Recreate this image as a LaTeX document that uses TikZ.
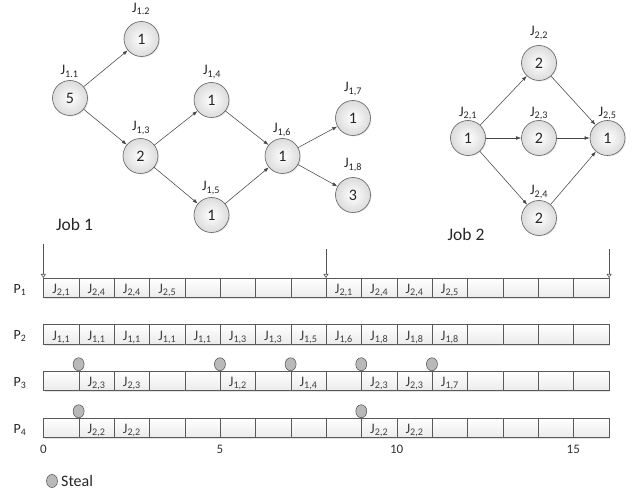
\documentclass[tikz,border=0pt]{standalone}
\usepackage{fontspec}
\setmainfont{Carlito}
\usetikzlibrary{arrows.meta,shapes.geometric,shadows}

\newcommand\jsub[1]{J\textsubscript{#1}}
\newcommand\psub[1]{P\textsubscript{#1}}

\begin{document}
\begin{tikzpicture}[x=1pt,y=-1pt,
  task/.style={circle, draw=gray!75!black, line width=0.6pt, inner color=white,
    outer color=gray!28, minimum size=35pt, inner sep=0pt,
    font=\fontsize{16}{16}\selectfont, text=black!85,
    drop shadow={opacity=0.18, shadow xshift=1pt, shadow yshift=-1pt}},
  tlab/.style={anchor=base, inner sep=0pt, font=\fontsize{14.5}{14.5}\selectfont, text=black!85},
  dep/.style={draw=gray!55!black, line width=0.55pt, -{Latex[length=5pt,width=3.6pt]}},
  rowbg/.style={rectangle, anchor=north west, minimum width=565.3pt, minimum height=19.5pt,
    inner sep=0pt, fill=white,
    drop shadow={opacity=0.22, shadow xshift=1pt, shadow yshift=-1.5pt}},
  cell/.style={rectangle, anchor=north west, draw=gray!70!black, line width=0.55pt,
    top color=white, bottom color=gray!16, minimum width=35.33pt, minimum height=19.5pt,
    inner sep=0pt},
  ctext/.style={inner sep=0pt, text height=11pt, text depth=0pt,
    font=\fontsize{14.5}{14.5}\selectfont, text=black!75},
  plab/.style={inner sep=0pt, text height=11pt, text depth=0pt,
    font=\fontsize{14}{14}\selectfont, text=black!85},
  axlab/.style={anchor=base, inner sep=0pt, font=\fontsize{13}{13}\selectfont, text=black!80},
  steal/.style={ellipse, draw=gray!60!black, fill=gray!55, minimum width=11pt,
    minimum height=13pt, inner sep=0pt, line width=0.5pt},
  cue/.style={draw=gray!65!black, line width=0.6pt, -{Triangle[open,length=4pt,width=5pt]}},
  joblab/.style={anchor=base, inner sep=0pt, font=\fontsize{17.5}{17.5}\selectfont, text=black!85},
  leglab/.style={anchor=west, inner sep=0pt, font=\fontsize{16}{16}\selectfont, text=black!85}
]
\useasboundingbox (0,0) rectangle (641,497);

% ---------------- Job 1 ----------------
\node[task] (n11) at (70,98) {5};
\node[task] (n12) at (141.5,39) {1};
\node[task] (n13) at (140.5,156) {2};
\node[task] (n14) at (211.5,100) {1};
\node[task] (n15) at (211.5,215) {1};
\node[task] (n16) at (282.5,156) {1};
\node[task] (n17) at (353,118) {1};
\node[task] (n18) at (353,195) {3};

\node[tlab] (l11) at (69.5,75) {\jsub{1.1}};
\node[tlab] (l12) at (141,12.5) {\jsub{1.2}};
\node[tlab] (l13) at (141,131) {\jsub{1,3}};
\node[tlab] (l14) at (212,75) {\jsub{1,4}};
\node[tlab] (l15) at (211,191) {\jsub{1,5}};
\node[tlab] (l16) at (282,133) {\jsub{1,6}};
\node[tlab] (l17) at (353,92) {\jsub{1,7}};
\node[tlab] (l18) at (353,168) {\jsub{1,8}};

\draw[dep] (n11) -- (n12);
\draw[dep] (n11) -- (n13);
\draw[dep] (n13) -- (n14);
\draw[dep] (n13) -- (n15);
\draw[dep] (n14) -- (n16);
\draw[dep] (n15) -- (n16);
\draw[dep] (n16) -- (n17);
\draw[dep] (n16) -- (n18);

\node[joblab] (job1) at (74.5,231) {Job 1};

% ---------------- Job 2 ----------------
\node[task] (m1) at (468,138) {1};
\node[task] (m2) at (539,63) {2};
\node[task] (m3) at (539,138) {2};
\node[task] (m4) at (539,218) {2};
\node[task] (m5) at (607.5,138) {1};

\node[tlab] (lm1) at (468,116.5) {\jsub{2,1}};
\node[tlab] (lm2) at (539,36) {\jsub{2,2}};
\node[tlab] (lm3) at (539,116.5) {\jsub{2,3}};
\node[tlab] (lm4) at (539,195) {\jsub{2,4}};
\node[tlab] (lm5) at (607.5,116.5) {\jsub{2,5}};

\draw[dep] (m1) -- (m2);
\draw[dep] (m1) -- (m3);
\draw[dep] (m1) -- (m4);
\draw[dep] (m2) -- (m5);
\draw[dep] (m3) -- (m5);
\draw[dep] (m4) -- (m5);

\node[joblab] (job2) at (466,241) {Job 2};

% ---------------- Schedule rows ----------------
\foreach \r/\y in {1/278,2/324.5,3/371,4/418} {
  \node[rowbg] (row-\r) at (43.3,\y) {};
  \foreach \i in {0,...,15}
    \node[cell] (c-\r-\i) at ({43.3+\i*35.33},\y) {};
  \node[plab] (p-\r) at (20,{\y+9.75}) {\psub{\r}};
}

% tasks executed in each time slot
\foreach \r/\i/\a/\b in {
  1/0/2/1, 1/1/2/4, 1/2/2/4, 1/3/2/5, 1/8/2/1, 1/9/2/4, 1/10/2/4, 1/11/2/5,
  2/0/1/1, 2/1/1/1, 2/2/1/1, 2/3/1/1, 2/4/1/1, 2/5/1/3, 2/6/1/3, 2/7/1/5,
  2/8/1/6, 2/9/1/8, 2/10/1/8, 2/11/1/8,
  3/1/2/3, 3/2/2/3, 3/5/1/2, 3/7/1/4, 3/9/2/3, 3/10/2/3, 3/11/1/7,
  4/1/2/2, 4/2/2/2, 4/9/2/2, 4/10/2/2}
  \node[ctext] (t-\r-\i) at (c-\r-\i.center) {\jsub{\a,\b}};

% steal events
\foreach \r/\i in {3/1,3/5,3/7,3/9,3/11,4/1,4/9}
  \node[steal, anchor=south] (s-\r-\i) at (c-\r-\i.north west) {};

% job arrivals
\coordinate (v0) at ([yshift=34pt]c-1-0.north west);
\coordinate (v8) at ([yshift=29pt]c-1-8.north west);
\coordinate (v16) at ([yshift=29pt]c-1-15.north east);
\draw[cue] (v0) -- (c-1-0.north west);
\draw[cue] (v8) -- (c-1-8.north west);
\draw[cue] (v16) -- (c-1-15.north east);

% time axis
\foreach \t in {0,5,10,15}
  \node[axlab] (ax-\t) at ({43.3+\t*35.33},454) {\t};

% legend
\node[steal] (legend-dot) at (52,481) {};
\node[leglab] (legend-text) at (61,481.5) {Steal};
\end{tikzpicture}
\end{document}
